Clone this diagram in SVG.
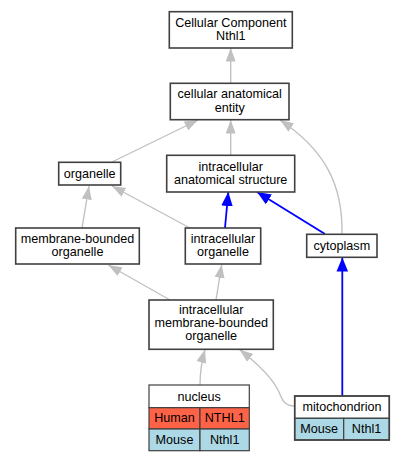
<svg xmlns="http://www.w3.org/2000/svg" width="405" height="461" viewBox="0 0 405 461">
<style>
text{font-family:"Liberation Sans",Arial,sans-serif;font-size:12.6px;fill:#000;text-anchor:middle}
.box{fill:#fff;stroke:#404040;stroke-width:1.6}
.tb{stroke:#404040;stroke-width:1.2}
.g{fill:none;stroke:#c0c0c0;stroke-width:1.35}
.b{fill:none;stroke:#0000ff;stroke-width:1.8}
.hum{fill:#ff6347}
.mou{fill:#add8e6}
.hd{fill:#fff}
</style>
<defs>
<marker id="ag" markerUnits="userSpaceOnUse" markerWidth="14" markerHeight="11" refX="13.5" refY="5" orient="auto" viewBox="0 0 14 10">
<path d="M0,0 L13.5,5 L0,10 z" fill="#c0c0c0"/>
</marker>
<marker id="ab" markerUnits="userSpaceOnUse" markerWidth="15" markerHeight="12" refX="14" refY="5.8" orient="auto" viewBox="0 0 15 11.6">
<path d="M0,0 L14,5.8 L0,11.6 z" fill="#0000ff"/>
</marker>
</defs>
<g id="edges">
<path class="g" marker-end="url(#ag)" d="M230.7,83.3 L230.7,48"/>
<path class="g" marker-end="url(#ag)" d="M112,162 L198,120"/>
<path class="g" marker-end="url(#ag)" d="M230.7,155.3 L230.7,120"/>
<path class="g" marker-end="url(#ag)" d="M342,234 C343,185 325,150 280,120"/>
<path class="g" marker-end="url(#ag)" d="M82,228 L89,186"/>
<path class="g" marker-end="url(#ag)" d="M190,228 L112,186"/>
<path class="b" marker-end="url(#ab)" d="M225,228 L228.3,192"/>
<path class="b" marker-end="url(#ab)" d="M325,234 L257,192"/>
<path class="g" marker-end="url(#ag)" d="M170,300 L108.3,265"/>
<path class="g" marker-end="url(#ag)" d="M216,300 L221.7,264.5"/>
<path class="b" marker-end="url(#ab)" d="M342.3,396 L342.3,257.5"/>
<path class="g" marker-end="url(#ag)" d="M200,385 C200,372 202,360 205,349.5"/>
<path class="g" marker-end="url(#ag)" d="M294.5,406 C283,406 282,398 278,390 C272,378 258,364 239.5,349.5"/>
</g>
<g id="n_cc">
<rect class="box" x="169.3" y="11.7" width="123" height="36.3"/>
<text x="230.8" y="26.8">Cellular Component</text>
<text x="230.8" y="40.2">Nthl1</text>
</g>
<g id="n_cae">
<rect class="box" x="170.3" y="83.3" width="118.7" height="36.4"/>
<text x="229.7" y="98.3">cellular anatomical</text>
<text x="229.7" y="111.7">entity</text>
</g>
<g id="n_organelle">
<rect class="box" x="58.7" y="162.3" width="62" height="22.7"/>
<text x="89.7" y="177.8">organelle</text>
</g>
<g id="n_ias">
<rect class="box" x="166.7" y="155.3" width="128" height="36.7"/>
<text x="230.7" y="170.5">intracellular</text>
<text x="230.7" y="183.9">anatomical structure</text>
</g>
<g id="n_mbo">
<rect class="box" x="15.7" y="228" width="123.6" height="36"/>
<text x="77.5" y="243">membrane-bounded</text>
<text x="77.5" y="256.4">organelle</text>
</g>
<g id="n_io">
<rect class="box" x="185.3" y="228" width="75.4" height="36"/>
<text x="223" y="243">intracellular</text>
<text x="223" y="256.4">organelle</text>
</g>
<g id="n_cytoplasm">
<rect class="box" x="306.7" y="234.3" width="70.3" height="23"/>
<text x="341.8" y="250">cytoplasm</text>
</g>
<g id="n_imbo">
<rect class="box" x="149" y="300" width="124.3" height="49.3"/>
<text x="211.2" y="313.5">intracellular</text>
<text x="211.2" y="326.9">membrane-bounded</text>
<text x="211.2" y="340.3">organelle</text>
</g>
<g id="n_nucleus">
<rect class="hd tb" x="149" y="385" width="100.3" height="22.7"/>
<rect class="hum tb" x="149" y="407.7" width="51" height="21.3"/>
<rect class="hum tb" x="200" y="407.7" width="49.3" height="21.3"/>
<rect class="mou tb" x="149" y="429" width="51" height="21.7"/>
<rect class="mou tb" x="200" y="429" width="49.3" height="21.7"/>
<text x="199.2" y="400.5">nucleus</text>
<text x="174.5" y="422.2">Human</text>
<text x="224.7" y="422.2">NTHL1</text>
<text x="174.5" y="443.8">Mouse</text>
<text x="224.7" y="443.8">Nthl1</text>
</g>
<g id="n_mito">
<rect class="hd tb" x="294.7" y="396" width="94.6" height="22.3"/>
<rect class="mou tb" x="294.7" y="418.3" width="49" height="21.7"/>
<rect class="mou tb" x="343.7" y="418.3" width="45.6" height="21.7"/>
<rect fill="none" stroke="#404040" stroke-width="1.6" x="294.7" y="396" width="94.6" height="44"/>
<text x="342" y="411.3">mitochondrion</text>
<text x="319.2" y="433">Mouse</text>
<text x="366.5" y="433">Nthl1</text>
</g>
</svg>
